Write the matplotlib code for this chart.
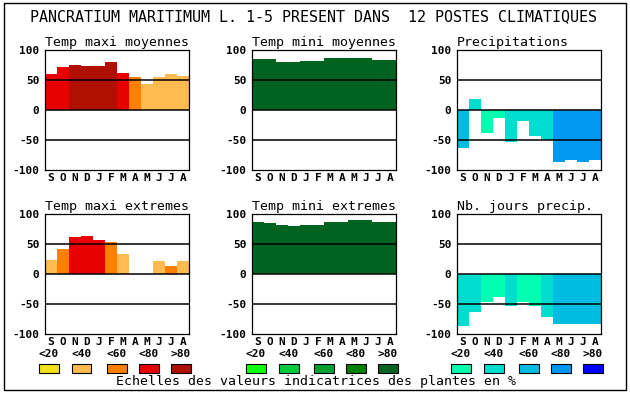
import matplotlib
matplotlib.use("Agg")
import matplotlib.pyplot as plt
from matplotlib.patches import Rectangle
import numpy as np

# data
months = ["S", "O", "N", "D", "J", "F", "M", "A", "M", "J", "J", "A"]
classes = ["<20", "<40", "<60", "<80", ">80"]
title = "PANCRATIUM MARITIMUM L. 1-5 PRESENT DANS  12 POSTES CLIMATIQUES"
footer = "Echelles des valeurs indicatrices des plantes en %"

tmax_moy = [60, 71, 75, 73, 73, 80, 61, 55, 43, 55, 60, 57]
tmax_moy_cls = [3, 3, 4, 4, 4, 4, 3, 2, 1, 1, 1, 1]
tmin_moy = [85, 85, 80, 80, 81, 81, 87, 87, 87, 87, 83, 83]
tmin_moy_cls = [4] * 12
precip = [-64, 19, -38, -13, -54, -18, -44, -50, -86, -84, -86, -84]
precip_cls = [2, 1, 0, 0, 1, 1, 1, 1, 3, 3, 3, 3]

tmax_ext = [23, 42, 62, 63, 57, 53, 33, 0, 0, 22, 13, 22]
tmax_ext_cls = [1, 2, 3, 3, 3, 2, 1, 1, 1, 1, 2, 1]
tmin_ext = [87, 85, 82, 80, 82, 82, 87, 87, 90, 90, 87, 87]
tmin_ext_cls = [4] * 12
nb_jours = [-87, -64, -46, -38, -54, -46, -54, -71, -84, -83, -83, -84]
nb_jours_cls = [1, 1, 0, 0, 1, 0, 0, 1, 2, 2, 2, 2]

reds = ["#f2e21c", "#ffbb50", "#ff8000", "#e80000", "#b01000"]
greens = ["#10ff10", "#00cc40", "#00a030", "#008000", "#006420"]
blues = ["#00ffb0", "#00dcd0", "#00bce0", "#0098f0", "#0000ff"]

W, H = 630, 394
mono = "DejaVu Sans Mono"

fig = plt.figure(figsize=(6.3, 3.94), dpi=100)


def fx(x):
    return x / W


def fy(y):
    return 1 - y / H


panels = [
    ("Temp maxi moyennes", tmax_moy, tmax_moy_cls, reds, 45, 50),
    ("Temp mini moyennes", tmin_moy, tmin_moy_cls, greens, 252, 50),
    ("Precipitations", precip, precip_cls, blues, 457, 50),
    ("Temp maxi extremes", tmax_ext, tmax_ext_cls, reds, 45, 214),
    ("Temp mini extremes", tmin_ext, tmin_ext_cls, greens, 252, 214),
    ("Nb. jours precip.", nb_jours, nb_jours_cls, blues, 457, 214),
]

for name, vals, cls, pal, left, top in panels:
    ax = fig.add_axes([fx(left), fy(top + 120), 144 / W, 120 / H])
    x = np.arange(len(months))
    ax.bar(x, vals, width=1.0, color=[pal[c] for c in cls], linewidth=0)
    for yl in (-50, 0, 50):
        ax.axhline(yl, color="black", linewidth=1.1, zorder=3)
    ax.set_xlim(-0.5, 11.5)
    ax.set_ylim(-100, 100)
    ax.set_yticks([-100, -50, 0, 50, 100])
    ax.set_yticklabels(["-100", "-50", "0", "50", "100"], family=mono,
                       fontweight="bold", fontsize=8)
    ax.set_xticks(x)
    ax.set_xticklabels(months, family=mono, fontweight="bold", fontsize=8)
    ax.tick_params(length=0, pad=4)
    ax.tick_params(axis="x", pad=2)
    for sp in ax.spines.values():
        sp.set_linewidth(0.9)
    ax.set_title(name, loc="left", family=mono, fontsize=9.5, pad=3)

# class labels and legend boxes
offsets = [4, 36.5, 71.5, 104, 136]
for left, pal in [(45, reds), (252, greens), (457, blues)]:
    for i, lab in enumerate(classes):
        cx = left + offsets[i]
        fig.text(fx(cx), fy(354), lab, ha="center", va="center",
                 family=mono, fontweight="bold", fontsize=8)
        fig.patches.append(Rectangle((fx(cx - 10), fy(373)), 20 / W, 9 / H,
                                     facecolor=pal[i], edgecolor="black",
                                     linewidth=0.8, transform=fig.transFigure))

fig.text(fx(314), fy(17), title, ha="center", va="center", family=mono,
         fontsize=10.8)
fig.text(fx(316), fy(382), footer, ha="center", va="center", family=mono,
         fontsize=9.5)

# outer frame
fig.patches.append(Rectangle((fx(4), fy(390)), 622 / W, 387 / H, fill=False,
                             edgecolor="black", linewidth=1.0,
                             transform=fig.transFigure))

fig.savefig("out.png", dpi=100)
